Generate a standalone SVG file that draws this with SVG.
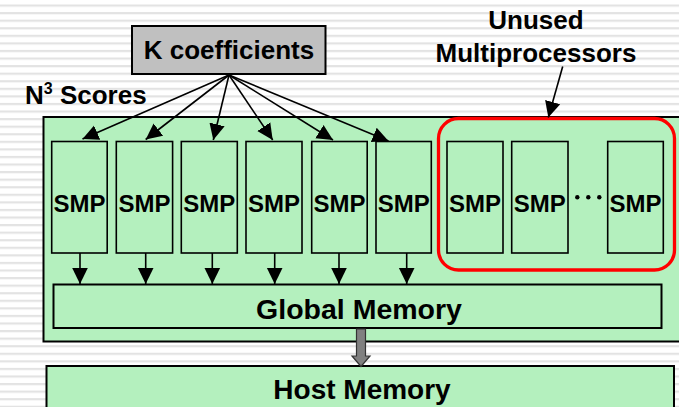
<svg xmlns="http://www.w3.org/2000/svg" width="679" height="407" viewBox="0 0 679 407">
<style>
.t{font-family:"Liberation Sans",Arial,sans-serif;font-weight:bold;fill:#000;text-anchor:middle}
.green{fill:#b4f0be;stroke:#000}
.smp{fill:#b4f0be;stroke:#000;stroke-width:1.6}
.conn{stroke:#000;stroke-width:1.6;fill:none;marker-end:url(#ah)}
</style>
<defs>
<pattern id="stripes" x="0" y="4.5" width="20" height="7.57" patternUnits="userSpaceOnUse">
<rect x="0" y="0" width="20" height="2.2" fill="#e3e3e3"/>
</pattern>
<marker id="ah" markerUnits="userSpaceOnUse" markerWidth="18" markerHeight="18" viewBox="0 0 18 18" refX="16" refY="9" orient="auto">
<path d="M0,1.2 L16,9 L0,16.8 Z" fill="#000"/>
</marker>
</defs>
<rect x="0" y="0" width="679" height="407" fill="#fff"/>
<rect x="0" y="0" width="679" height="407" fill="url(#stripes)"/>

<g id="gpu">
<rect class="green" x="43.5" y="117" width="640" height="224.5" stroke-width="2"/>
</g>

<g id="host-memory">
<rect class="green" x="46.5" y="366" width="627.5" height="50" stroke-width="2"/>
<text class="t" x="362" y="398.5" font-size="28">Host Memory</text>
</g>

<g id="global-memory">
<rect class="green" x="53.5" y="284.5" width="608" height="43.5" stroke-width="2"/>
<text class="t" x="359" y="318.5" font-size="28.5">Global Memory</text>
</g>

<g id="k-coefficients">
<rect x="132" y="26" width="193.5" height="48" fill="#c0c0c0" stroke="#000" stroke-width="2"/>
<text class="t" x="229" y="59" font-size="26">K coefficients</text>
</g>

<g id="n3-scores">
<text class="t" x="25" y="104" font-size="26" style="text-anchor:start">N<tspan font-size="16" dy="-10">3</tspan><tspan dy="10"> Scores</tspan></text>
</g>

<g id="unused-label">
<text class="t" x="536" y="29" font-size="26">Unused</text>
<text class="t" x="536" y="61.5" font-size="26">Multiprocessors</text>
</g>

<g id="smp1"><rect class="smp" x="51.7" y="141.5" width="55.5" height="111.5"/><text class="t" x="79.5" y="211.5" font-size="24">SMP</text></g>
<g id="smp2"><rect class="smp" x="116.3" y="141.5" width="56.3" height="111.5"/><text class="t" x="144.5" y="211.5" font-size="24">SMP</text></g>
<g id="smp3"><rect class="smp" x="181.3" y="141.5" width="56" height="111.5"/><text class="t" x="209.3" y="211.5" font-size="24">SMP</text></g>
<g id="smp4"><rect class="smp" x="246" y="141.5" width="56" height="111.5"/><text class="t" x="274" y="211.5" font-size="24">SMP</text></g>
<g id="smp5"><rect class="smp" x="311.7" y="141.5" width="55.5" height="111.5"/><text class="t" x="339.5" y="211.5" font-size="24">SMP</text></g>
<g id="smp6"><rect class="smp" x="376" y="141.5" width="55.3" height="111.5"/><text class="t" x="403.7" y="211.5" font-size="24">SMP</text></g>
<g id="smp7"><rect class="smp" x="447" y="141.5" width="56" height="111.5"/><text class="t" x="475" y="211.5" font-size="24">SMP</text></g>
<g id="smp8"><rect class="smp" x="511.7" y="141.5" width="56.3" height="111.5"/><text class="t" x="539.8" y="211.5" font-size="24">SMP</text></g>
<g id="smp9"><rect class="smp" x="607.7" y="141.5" width="55.6" height="111.5"/><text class="t" x="635.5" y="211.5" font-size="24">SMP</text></g>

<g id="ellipsis" fill="#000">
<circle cx="577.3" cy="197.3" r="2.2"/>
<circle cx="588.3" cy="197.3" r="2.2"/>
<circle cx="599.3" cy="197.3" r="2.2"/>
</g>

<g id="unused-group">
<rect x="438.5" y="118.5" width="236" height="151.5" rx="20" ry="20" fill="none" stroke="#f00" stroke-width="3.3"/>
</g>

<g id="connectors">
<line class="conn" x1="229" y1="75" x2="82.5" y2="139"/>
<line class="conn" x1="229" y1="75" x2="145.7" y2="139.5"/>
<line class="conn" x1="229" y1="75" x2="213.3" y2="140"/>
<line class="conn" x1="229" y1="75" x2="272.7" y2="140"/>
<line class="conn" x1="229" y1="75" x2="333" y2="140"/>
<line class="conn" x1="229" y1="75" x2="388.5" y2="141"/>

<line class="conn" x1="80" y1="253" x2="80" y2="284"/>
<line class="conn" x1="145.7" y1="253" x2="145.7" y2="284"/>
<line class="conn" x1="212.3" y1="253" x2="212.3" y2="284"/>
<line class="conn" x1="274.7" y1="253" x2="274.7" y2="284"/>
<line class="conn" x1="339" y1="253" x2="339" y2="284"/>
<line class="conn" x1="406.7" y1="253" x2="406.7" y2="284"/>

<line class="conn" x1="562.7" y1="66.5" x2="548.3" y2="117.5"/>

<polygon points="356.5,329 365.5,329 365.5,356 370,356 361,366.5 352,356 356.5,356" fill="#808080" stroke="#333" stroke-width="1.2"/>
</g>
</svg>
